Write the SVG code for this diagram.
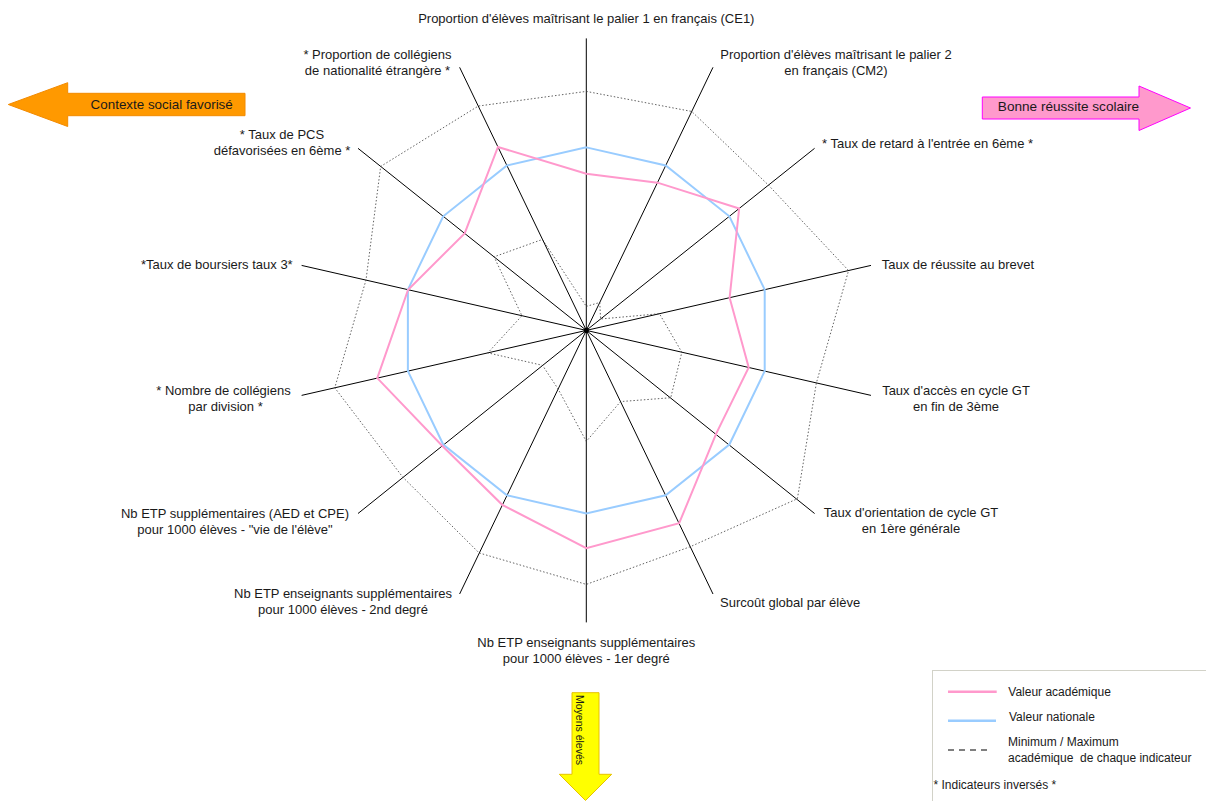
<svg xmlns="http://www.w3.org/2000/svg" width="1206" height="801" viewBox="0 0 1206 801">
<style>
.lbl{font-family:"Liberation Sans",Arial,sans-serif;font-size:13px;fill:#1a1a1a}
.leg{font-family:"Liberation Sans",Arial,sans-serif;font-size:12px;fill:#1a1a1a}
.mid{text-anchor:middle}
.end{text-anchor:end}
.axis{stroke:#000;stroke-width:1;fill:none}
.mm{stroke:#3a3a3a;stroke-width:0.8;stroke-dasharray:1.5 2;fill:none}
.acad{stroke:#FF99CC;stroke-width:2;fill:none;stroke-linejoin:miter}
.nat{stroke:#99CCFF;stroke-width:2;fill:none;stroke-linejoin:miter}
</style>
<rect width="1206" height="801" fill="#fff"/>

<g id="connectors">
<g id="axes" class="axis">
<line x1="586.3" y1="330.4" x2="586.3" y2="38.4"/>
<line x1="586.3" y1="330.4" x2="712.99" y2="67.32"/>
<line x1="586.3" y1="330.4" x2="814.59" y2="148.34"/>
<line x1="586.3" y1="330.4" x2="870.98" y2="265.42"/>
<line x1="586.3" y1="330.4" x2="870.98" y2="395.38"/>
<line x1="586.3" y1="330.4" x2="814.59" y2="513.5"/>
<line x1="586.3" y1="330.4" x2="712.99" y2="594"/>
<line x1="586.3" y1="330.4" x2="586.3" y2="622.4"/>
<line x1="586.3" y1="330.4" x2="459.61" y2="594"/>
<line x1="586.3" y1="330.4" x2="358.01" y2="513.5"/>
<line x1="586.3" y1="330.4" x2="301.62" y2="395.38"/>
<line x1="586.3" y1="330.4" x2="301.62" y2="265.42"/>
<line x1="586.3" y1="330.4" x2="358.01" y2="148.34"/>
<line x1="586.3" y1="330.4" x2="459.61" y2="67.32"/>
</g>
<circle cx="586.3" cy="330.4" r="2.6" fill="#000"/>
</g>

<g id="max-polygon">
<polygon class="mm" points="586.3,91.4 691.73,111.46 768.47,185.13 848.56,270.54 816.38,382.91 797.39,498.74 690.43,546.63 586.3,584.4 479.13,552.94 402.57,476.92 334.77,387.81 365.97,280.11 380.68,166.42 478.26,106.06"/>
</g>
<g id="min-polygon">
<polygon class="mm" points="586.3,306.4 599.75,302.47 600.61,318.99 659.42,313.71 681.84,352.21 670.74,397.74 620.58,401.58 586.3,441.4 558.1,388.96 542.52,365.32 487.83,352.87 521.95,315.71 494.04,256.83 542.48,239.4"/>
</g>
<g id="valeur-nationale">
<polygon class="nat" points="586.3,147.4 665.7,165.52 729.37,216.3 764.71,289.68 764.71,371.12 729.37,444.5 665.7,495.28 586.3,513.4 506.9,495.28 443.23,444.5 407.89,371.12 407.89,289.68 443.23,216.3 506.9,165.52"/>
</g>
<g id="valeur-academique">
<polygon class="acad" points="586.3,173.7 657.46,182.64 739.15,208.51 729.61,297.69 748.72,367.47 716.08,433.9 679.15,523.21 586.3,548.1 502.3,504.83 441.9,445.56 377.28,378.11 408.08,289.72 464.65,233.38 497.96,146.96"/>
</g>

<g id="label-ce1"><text class="lbl mid" x="586.3" y="23">Proportion d'élèves maîtrisant le palier 1 en français (CE1)</text></g>
<g id="label-cm2"><text class="lbl mid" x="836" y="58.5">Proportion d'élèves maîtrisant le palier 2</text><text class="lbl mid" x="836" y="74.5">en français (CM2)</text></g>
<g id="label-retard"><text class="lbl" x="822" y="147.5">* Taux de retard à l'entrée en 6ème *</text></g>
<g id="label-brevet"><text class="lbl" x="881.7" y="268.5">Taux de réussite au brevet</text></g>
<g id="label-acces"><text class="lbl mid" x="956" y="395">Taux d'accès en cycle GT</text><text class="lbl mid" x="956" y="411">en fin de 3ème</text></g>
<g id="label-orientation"><text class="lbl mid" x="911" y="517">Taux d'orientation de cycle GT</text><text class="lbl mid" x="911" y="533">en 1ère générale</text></g>
<g id="label-surcout"><text class="lbl" x="720" y="606.5">Surcoût global par élève</text></g>
<g id="label-1er-degre"><text class="lbl mid" x="586.3" y="647">Nb ETP enseignants supplémentaires</text><text class="lbl mid" x="586.3" y="663">pour 1000 élèves - 1er degré</text></g>
<g id="label-2nd-degre"><text class="lbl mid" x="343" y="598">Nb ETP enseignants supplémentaires</text><text class="lbl mid" x="343" y="614">pour 1000 élèves - 2nd degré</text></g>
<g id="label-vie-eleve"><text class="lbl mid" x="235" y="518">Nb ETP supplémentaires (AED et CPE)</text><text class="lbl mid" x="235" y="534">pour 1000 élèves - "vie de l'élève"</text></g>
<g id="label-collegiens"><text class="lbl mid" x="223.5" y="395">* Nombre de collégiens</text><text class="lbl mid" x="225.5" y="411">par division *</text></g>
<g id="label-boursiers"><text class="lbl end" x="292.7" y="268.5">*Taux de boursiers taux 3*</text></g>
<g id="label-pcs"><text class="lbl mid" x="282" y="138.5">* Taux de PCS</text><text class="lbl mid" x="282" y="154.5">défavorisées en 6ème *</text></g>
<g id="label-nationalite"><text class="lbl mid" x="377.5" y="58.5">* Proportion de collégiens</text><text class="lbl mid" x="377.5" y="74.5">de nationalité étrangère *</text></g>

<g id="arrow-contexte">
<polygon points="8.3,104.5 67.7,82.7 67.7,93.3 245,93.3 245,115.7 67.7,115.7 67.7,126.5" fill="#FF9900" stroke="#F28A00" stroke-width="1"/>
<text x="161.7" y="108.5" class="mid" style="font-family:'Liberation Sans',Arial,sans-serif;font-size:13.4px;fill:#1a1a1a">Contexte social favorisé</text>
</g>
<g id="arrow-reussite">
<polygon points="982.3,97 1139,97 1139,86 1190.5,108 1139,130.5 1139,119 982.3,119" fill="#FF99CC" stroke="#FF00FF" stroke-width="1"/>
<text x="1068.5" y="111" class="mid" style="font-family:'Liberation Sans',Arial,sans-serif;font-size:13.6px;fill:#1a1a1a">Bonne réussite scolaire</text>
</g>
<g id="arrow-moyens">
<polygon points="572,692.7 599,692.7 599,774.3 611.7,774.3 585.5,800.5 559.3,774.3 572,774.3" fill="#FFFF00" stroke="#E6C200" stroke-width="1"/>
<text transform="translate(576.3,695) rotate(90)" style="font-family:'Liberation Sans',Arial,sans-serif;font-size:10.5px;fill:#1a1a1a">Moyens élevés</text>
</g>

<g id="legend">
<rect x="932.5" y="670.5" width="300" height="150" fill="#fff" stroke="#A5A590" stroke-width="1" stroke-dasharray="1 1"/>
<line x1="948" y1="691.7" x2="996.7" y2="691.7" stroke="#FF99CC" stroke-width="2.5"/>
<text class="leg" x="1008.3" y="696">Valeur académique</text>
<line x1="948" y1="720.7" x2="996" y2="720.7" stroke="#99CCFF" stroke-width="2.5"/>
<text class="leg" x="1009" y="720.5">Valeur nationale</text>
<line x1="948" y1="750" x2="988" y2="750" stroke="#000" stroke-width="1.2" stroke-dasharray="6 5"/>
<text class="leg" x="1008" y="746">Minimum / Maximum</text>
<text class="leg" x="1008" y="761.5" xml:space="preserve">académique  de chaque indicateur</text>
<text class="leg" x="933.5" y="789">* Indicateurs inversés *</text>
</g>
</svg>
